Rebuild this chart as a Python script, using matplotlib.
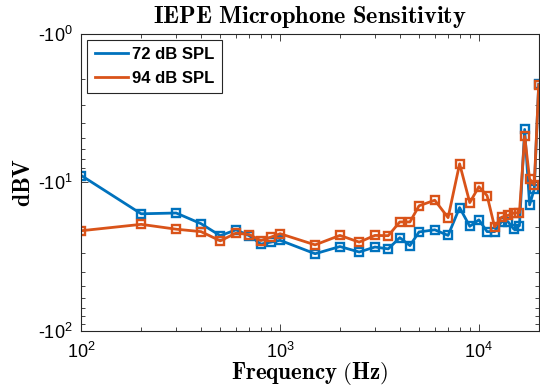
import matplotlib
matplotlib.use('Agg')
import matplotlib.pyplot as plt
from matplotlib.lines import Line2D
from matplotlib.ticker import FuncFormatter, LogLocator, NullFormatter
import numpy as np

plt.rcParams['font.family'] = ['Liberation Sans', 'DejaVu Sans']
plt.rcParams['mathtext.fontset'] = 'custom'
plt.rcParams['mathtext.rm'] = 'Liberation Sans'
plt.rcParams['mathtext.it'] = 'Liberation Sans:italic'
plt.rcParams['mathtext.bf'] = 'Liberation Sans:bold'

# measurement frequencies (Hz)
freq = [100, 200, 300, 400, 500, 600, 700, 800, 900, 1000,
        1500, 2000, 2500, 3000, 3500, 4000, 4500, 5000, 6000, 7000,
        8000, 9000, 10000, 11000, 12000, 13000, 14000, 15000, 16000,
        17000, 18000, 19000, 20000]

# sensitivity in dBV
sens_72 = [-9.0, -16.3, -16.1, -19.0, -22.9, -20.9, -22.9, -26.1, -25.3, -24.6,
           -30.3, -27.1, -29.5, -27.3, -28.1, -23.6, -26.7, -21.6, -20.9, -22.8,
           -14.8, -19.8, -17.9, -21.5, -21.5, -18.4, -18.4, -20.7, -19.6,
           -4.4, -14.2, -11.1, -2.18]
sens_94 = [-21.2, -19.2, -20.7, -21.5, -24.8, -22.0, -22.5, -24.7, -23.4, -22.2,
           -26.4, -22.8, -25.3, -22.8, -22.9, -18.5, -18.5, -14.4, -13.2, -17.3,
           -7.5, -13.7, -10.7, -12.3, -20.0, -17.2, -16.7, -16.1, -16.0,
           -4.9, -9.5, -10.4, -2.2]

labels = ['72 dB SPL', '94 dB SPL']
colors = ['#0072BD', '#D95319']

fig = plt.figure(figsize=(5.4, 3.89), dpi=100)
ax = fig.add_axes([0.1506, 0.150, 0.847, 0.7626])

for s, c in zip([sens_72, sens_94], colors):
    ax.plot(freq, -np.array(s), color=c, linewidth=2.0, marker='s',
            markersize=5.5, markerfacecolor='none', markeredgewidth=1.7)

ax.set_xscale('log')
ax.set_yscale('log')
ax.set_xlim(100, 20000)
ax.set_ylim(100, 1)

ax.yaxis.set_major_locator(LogLocator(base=10, numticks=5))
ax.yaxis.set_minor_locator(LogLocator(base=10, subs=np.arange(2, 10), numticks=10))
ax.yaxis.set_major_formatter(FuncFormatter(
    lambda v, p: r'-$\mathregular{10^{%d}}$' % int(round(np.log10(v)))))
ax.yaxis.set_minor_formatter(NullFormatter())
ax.xaxis.set_minor_formatter(NullFormatter())

ax.tick_params(which='both', direction='in', top=True, right=True,
               colors='#262626', labelcolor='black', labelsize=13, width=0.6)
ax.tick_params(which='major', length=5)
ax.tick_params(which='minor', length=3)
ax.tick_params(axis='x', pad=8)
ax.tick_params(axis='y', pad=6)
for sp in ax.spines.values():
    sp.set_color('#262626')
    sp.set_linewidth(0.8)

ax.set_title(r'$\mathbf{IEPE\ Microphone\ Sensitivity}$', math_fontfamily='cm',
             fontsize=17.5, pad=8)
ax.set_xlabel(r'$\mathbf{Frequency\ (Hz)}$', math_fontfamily='cm', fontsize=16.5,
              labelpad=-1)
ax.set_ylabel(r'$\mathbf{dBV}$', math_fontfamily='cm', fontsize=17, labelpad=2)

handles = [Line2D([], [], color=c, linewidth=2.0) for c in colors]
leg = ax.legend(handles, labels, loc='upper left', fancybox=False, framealpha=1,
                edgecolor='#262626', borderaxespad=0.35, handlelength=2.0,
                handletextpad=0.25, borderpad=0.45, labelspacing=0.5,
                prop={'weight': 'bold', 'size': 12})
leg.get_frame().set_linewidth(0.8)

fig.savefig('out.png', dpi=100)
